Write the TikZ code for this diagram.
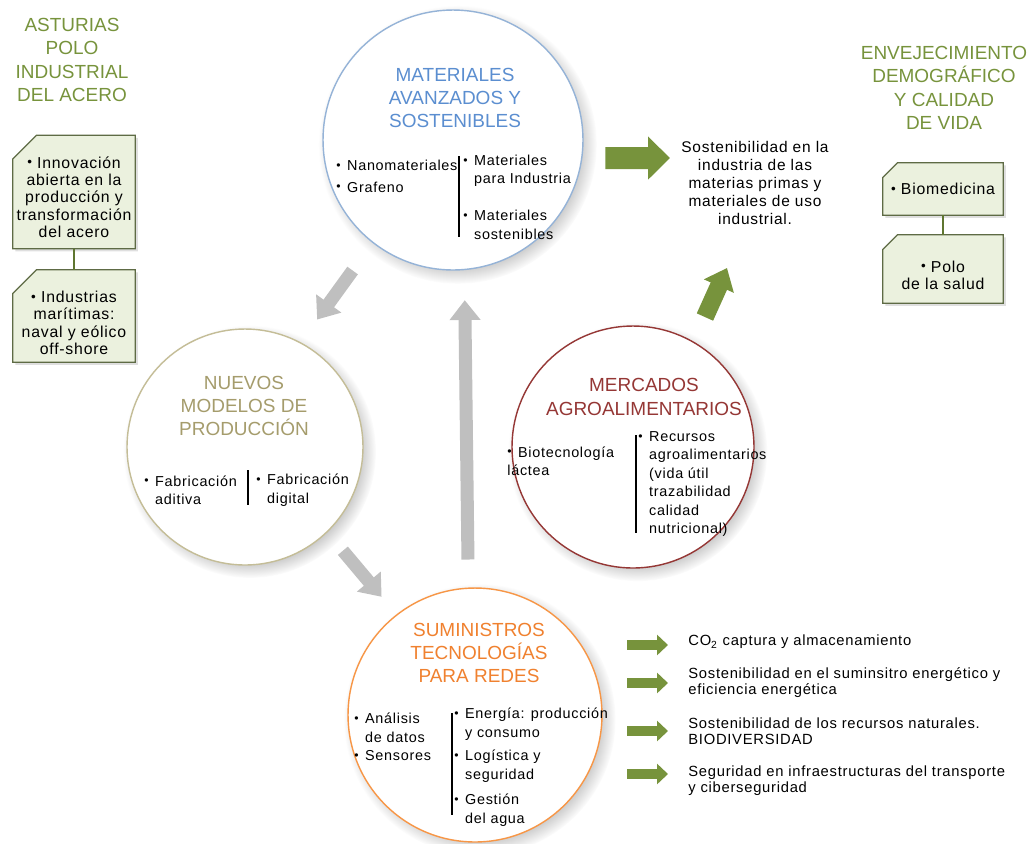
\documentclass[tikz,border=0pt]{standalone}
\usepackage{graphicx}
\usepackage{fontspec}
\setmainfont{Liberation Sans}[LetterSpace=5]
\newfontfamily\titlefont{Liberation Sans}
\usetikzlibrary{shadows,arrows.meta,backgrounds}

\definecolor{olivegreen}{HTML}{77933C}
\definecolor{matblue}{HTML}{5B8ED0}
\definecolor{matline}{HTML}{95B3D7}
\definecolor{prodtan}{HTML}{A59C6C}
\definecolor{prodline}{HTML}{C4BD97}
\definecolor{mercred}{HTML}{953735}
\definecolor{sumorange}{HTML}{F0812F}
\definecolor{sumline}{HTML}{F79646}
\definecolor{boxfill}{HTML}{EBF1DE}
\definecolor{boxline}{HTML}{5E6B45}
\definecolor{arrowgray}{HTML}{BFBFBF}

\newcommand{\dotmark}{\raisebox{0.08em}{\scalebox{0.85}{•}}}
\newcommand{\bul}{\makebox[0.75em][l]{\dotmark}}
\newcommand{\ind}{\hspace*{0.75em}}
\newcommand{\lift}[1]{\rule{0pt}{#1}}

\tikzset{
  topic/.style={circle, draw, line width=0.8pt, fill=white,
    circular drop shadow={shadow xshift=2.5pt, shadow yshift=-2.5pt, shadow scale=1.07, opacity=0.5}},
  topictitle/.style={align=center, inner sep=0pt, font=\titlefont\fontsize{10.8}{13.3}\selectfont},
  areatitle/.style={align=center, inner sep=0pt, text=olivegreen, font=\titlefont\fontsize{10.8}{13.3}\selectfont},
  items/.style={align=left, anchor=west, inner sep=0pt, font=\fontsize{8.2}{10.5}\selectfont},
  listitem/.style={align=left, anchor=west, inner sep=0pt, font=\fontsize{8.4}{9.2}\selectfont},
  divider/.style={draw=black, line width=0.6pt},
  notetext/.style={rectangle, align=center, inner sep=0pt, font=\fontsize{9}{9.9}\selectfont},
  notebox/.style={draw=boxline, fill=boxfill, line width=0.7pt,
    drop shadow={opacity=0.25, shadow xshift=1.5pt, shadow yshift=-1.5pt}},
  boxlink/.style={draw=olivegreen!80!black, line width=1.6pt},
  grayarrow/.style={draw=arrowgray, line width=7.4pt, -{Triangle[width=17pt,length=11.3pt]}},
  greenarrow big/.style={draw=olivegreen, line width=12.5pt, -{Triangle[width=23.8pt,length=12.5pt]}},
  greenarrow mid/.style={draw=olivegreen, line width=10.2pt, -{Triangle[width=18pt,length=11.3pt]}},
  greenarrow small/.style={draw=olivegreen, line width=5.7pt, -{Triangle[width=11.3pt,length=6.2pt]}},
}

\begin{document}
\begin{tikzpicture}[x=0.02cm, y=-0.02cm]
\useasboundingbox (0,0) rectangle (1035,843);

% the four topics
\node[topic, draw=matline, minimum size=5.2cm] (mat) at (453,140) {};
\node[topic, draw=prodline, minimum size=4.72cm] (prod) at (245,447) {};
\node[topic, draw=mercred, minimum size=4.84cm] (merc) at (633,447) {};
\node[topic, draw=sumline, minimum size=5.08cm] (sum) at (475,715) {};

\node[topictitle, text=matblue] (mat title) at (455,98) {MATERIALES\\AVANZADOS Y\\SOSTENIBLES};
\node[topictitle, text=prodtan] (prod title) at (244,406) {NUEVOS\\MODELOS DE\\PRODUCCIÓN};
\node[topictitle, text=mercred] (merc title) at (644,397) {MERCADOS\\AGROALIMENTARIOS};
\node[topictitle, text=sumorange] (sum title) at (479,653) {SUMINISTROS\\TECNOLOGÍAS\\PARA REDES};

\node[items] (mat left) at (336,176) {\bul Nanomateriales\\[2pt]\bul Grafeno};
\node[items] (mat right) at (463,197) {\bul Materiales\\\ind para Industria\\[10.5pt]\bul Materiales\\\ind sostenibles};
\draw[divider] (459,156) -- (459,237);

\node[items] (prod left) at (144,490) {\bul Fabricación\\\ind aditiva};
\node[items] (prod right) at (256,490) {\bul Fabricación\\\ind digital};
\draw[divider] (248,470) -- (248,505);

\node[items] (merc left) at (507,461) {\bul Biotecnología\\láctea};
\node[items] (merc right) at (638,484) {\bul Recursos\\\ind agroalimentarios\\\ind (vida útil\\\ind trazabilidad\\\ind calidad\\\ind nutricional)};
\draw[divider] (636,435) -- (636,533);

\node[items] (sum left) at (354,737) {\bul Análisis\\\ind de datos\\\bul Sensores};
\node[items] (sum right) at (454,767) {\bul Energía: producción\\\ind y consumo\\[3pt]\bul Logística y\\\ind seguridad\\[4pt]\bul Gestión\\\ind del agua};
\draw[divider] (452,713) -- (452,815);

% cycle between the topics
\draw[grayarrow, shorten <=0.68cm, shorten >=0.56cm] (mat.232) -- (prod.62);
\draw[grayarrow, shorten <=0.48cm, shorten >=0.46cm] (prod.314) -- (sum.128);
\draw[grayarrow, shorten <=0.56cm, shorten >=0.6cm] (sum.93) -- (mat.275);

% side areas
\node[areatitle] (asturias) at (72,60) {ASTURIAS\\POLO\\INDUSTRIAL\\DEL ACERO};
\node[notetext, minimum width=2.44cm, minimum height=2.26cm] (steel) at (74,192) {\lift{12.5pt}\dotmark\ Innovación\\abierta en la\\producción y\\transformación\\del acero};
\node[notetext, minimum width=2.44cm, minimum height=1.84cm] (naval) at (74,316) {\lift{14.5pt}\dotmark\ Industrias\\marítimas:\\naval y eólico\\off-shore};

\node[areatitle] (ageing) at (944,88) {ENVEJECIMIENTO\\DEMOGRÁFICO\\Y CALIDAD\\DE VIDA};
\node[notetext, minimum width=2.4cm, minimum height=1.04cm] (biomed) at (943,189) {\dotmark\ Biomedicina};
\node[notetext, minimum width=2.4cm, minimum height=1.36cm] (health) at (943,269) {\lift{13.5pt}\dotmark\ Polo\\de la salud};

\begin{scope}[on background layer]
\foreach \b/\c in {steel/0.48cm, naval/0.48cm, biomed/0.3cm, health/0.3cm}
  \path[notebox] ([yshift=-\c]\b.north west) -- ([xshift=\c]\b.north west) -- (\b.north east)
    -- (\b.south east) -- (\b.south west) -- cycle;
\draw[boxlink] (steel.south) -- (naval.north);
\draw[boxlink] (biomed.south) -- (health.north);
\end{scope}

% outcomes
\node[align=center, inner sep=0pt, font=\fontsize{8.8}{10.2}\selectfont] (raw) at (755,183) {Sostenibilidad en la\\industria de las\\materias primas y\\materiales de uso\\industrial.};
\coordinate (raw tip) at (670,158);
\coordinate (raw tip low) at (727,268);
\draw[greenarrow big, shorten <=0.46cm] (mat.-8) -- (raw tip);
\draw[greenarrow mid, shorten <=0.54cm] (merc.60) -- (raw tip low);

\node[listitem] (co2) at (688,642) {CO\textsubscript{2} captura y almacenamiento};
\node[listitem] (energy) at (688,683) {Sostenibilidad en el suminsitro energético y\\eficiencia energética};
\node[listitem] (nature) at (688,731) {Sostenibilidad de los recursos naturales.\\BIODIVERSIDAD};
\node[listitem] (transport) at (688,781) {Seguridad en infraestructuras del transporte\\y ciberseguridad};
\draw[greenarrow small] ([xshift=-1.22cm, yshift=-0.06cm]co2.west) -- ([xshift=-0.4cm, yshift=-0.06cm]co2.west);
\foreach \t in {energy, nature}
  \draw[greenarrow small] ([xshift=-1.22cm]\t.west) -- ([xshift=-0.4cm]\t.west);
\draw[greenarrow small] ([xshift=-1.22cm, yshift=0.14cm]transport.west) -- ([xshift=-0.4cm, yshift=0.14cm]transport.west);

\end{tikzpicture}
\end{document}
